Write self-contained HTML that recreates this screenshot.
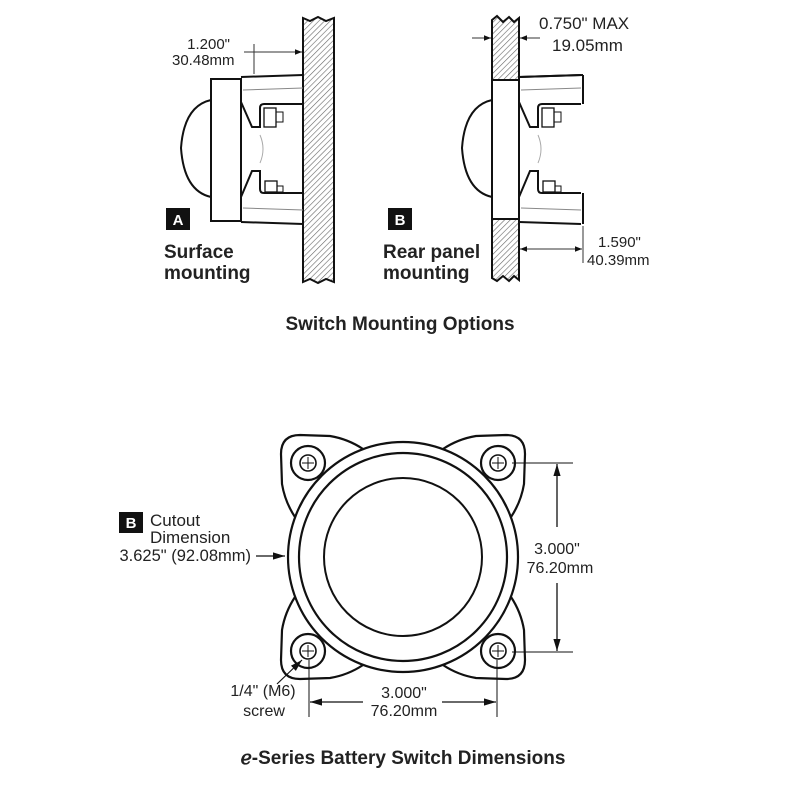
<!DOCTYPE html>
<html><head><meta charset="utf-8"><style>
html,body{margin:0;padding:0;background:#fff;}
svg{display:block;}
text{font-family:"Liberation Sans",Arial,sans-serif;fill:#222;}
</style></head><body>
<svg width="800" height="800" viewBox="0 0 800 800" xmlns="http://www.w3.org/2000/svg">
<defs>
<pattern id="h" width="4" height="4" patternUnits="userSpaceOnUse" patternTransform="rotate(45)">
<rect width="4" height="4" fill="#fff"/><line x1="0" y1="0" x2="0" y2="4" stroke="#666" stroke-width="1.2"/>
</pattern>
<marker id="ar" viewBox="0 0 10 10" refX="10" refY="5" markerWidth="7" markerHeight="7" orient="auto-start-reverse" markerUnits="userSpaceOnUse"><path d="M0,1 L10,5 L0,9 Z" fill="#111"/></marker>
<marker id="arB" viewBox="0 0 10 10" refX="10" refY="5" markerWidth="12" markerHeight="12" orient="auto-start-reverse" markerUnits="userSpaceOnUse"><path d="M0,2 L10,5 L0,8 Z" fill="#111"/></marker>
<g id="flange" fill="none" stroke="#111" stroke-width="2">
<path d="M241,77 L303,75"/>
<path d="M241,102 L252,127 L260,127 L260,108 Q260,104 264,104 L303,104"/>
<path d="M241,197 L252,171 L260,171 L260,189 Q260,193 264,193 L303,193"/>
<path d="M241,222 L303,224"/>
<line x1="243" y1="90" x2="303" y2="88" stroke="#888" stroke-width="1"/>
<line x1="243" y1="208" x2="303" y2="210" stroke="#888" stroke-width="1"/>
<rect x="264" y="108" width="12" height="19" stroke-width="1.3"/>
<rect x="276" y="112" width="7" height="10" stroke-width="1"/>
<rect x="265" y="181" width="12" height="11" stroke-width="1.3"/>
<rect x="277" y="186" width="6" height="6" stroke-width="1"/>
<path d="M260,135 Q266,149 260,163" stroke="#aaa" stroke-width="1"/>
</g>
</defs>

<!-- Panel A -->
<path d="M303,18 L310,21 L318,17 L326,21 L334,18 L334,282 L326,279 L318,283 L310,279 L303,282 Z" fill="url(#h)" stroke="#111" stroke-width="2"/>
<use href="#flange"/>
<rect x="211" y="79" width="30" height="142" fill="#fff" stroke="#111" stroke-width="2"/>
<path d="M211,100 Q184,106 181,148 Q184,191 211,197" fill="none" stroke="#111" stroke-width="2"/>
<line x1="254" y1="44" x2="254" y2="74" stroke="#333" stroke-width="1"/>
<line x1="244" y1="52" x2="302" y2="52" stroke="#333" stroke-width="1" marker-end="url(#ar)"/>
<text x="230" y="49" font-size="15" text-anchor="end">1.200"</text>
<text x="172" y="65" font-size="15">30.48mm</text>
<rect x="166" y="208" width="24" height="22" fill="#111"/>
<text x="178" y="225" font-size="15" font-weight="bold" text-anchor="middle" style="fill:#fff">A</text>
<text x="164" y="258" font-size="19" font-weight="bold">Surface</text>
<text x="164" y="279" font-size="19" font-weight="bold">mounting</text>

<!-- Panel B -->
<path d="M492,20 L497,16 L503,22 L509,17 L514,22 L519,18 L519,280 L514,276 L509,281 L503,276 L497,281 L492,278 Z" fill="url(#h)" stroke="#111" stroke-width="2"/>
<g transform="translate(278,0)"><use href="#flange"/></g>
<line x1="519" y1="77" x2="583" y2="75" stroke="#111" stroke-width="2"/>
<line x1="583" y1="75" x2="583" y2="104" stroke="#111" stroke-width="2"/>
<line x1="583" y1="193" x2="583" y2="224" stroke="#111" stroke-width="2"/>
<rect x="492" y="80" width="27" height="139" fill="#fff" stroke="#111" stroke-width="2"/>
<path d="M492,100 Q465,106 462,148 Q465,191 492,197" fill="none" stroke="#111" stroke-width="2"/>
<line x1="472" y1="38" x2="491" y2="38" stroke="#333" stroke-width="1" marker-end="url(#ar)"/>
<line x1="540" y1="38" x2="520" y2="38" stroke="#333" stroke-width="1" marker-end="url(#ar)"/>
<text x="539" y="29" font-size="17">0.750" MAX</text>
<text x="552" y="51" font-size="17">19.05mm</text>
<line x1="583" y1="226" x2="583" y2="263" stroke="#333" stroke-width="1"/>
<line x1="520" y1="249" x2="582" y2="249" stroke="#333" stroke-width="1" marker-start="url(#ar)" marker-end="url(#ar)"/>
<text x="598" y="247" font-size="15">1.590"</text>
<text x="587" y="265" font-size="15">40.39mm</text>
<rect x="388" y="208" width="24" height="22" fill="#111"/>
<text x="400" y="225" font-size="15" font-weight="bold" text-anchor="middle" style="fill:#fff">B</text>
<text x="383" y="258" font-size="19" font-weight="bold">Rear panel</text>
<text x="383" y="279" font-size="19" font-weight="bold">mounting</text>

<text x="400" y="330" font-size="19" font-weight="bold" text-anchor="middle">Switch Mounting Options</text>

<!-- Bottom switch -->
<g transform="translate(403,557)" fill="none" stroke="#111" stroke-width="2.2">
<g id="corner"><path d="M-40,-108 Q-55,-118 -73,-121 L-103,-122 Q-122,-122 -122,-103 L-121,-73 Q-118,-55 -108,-40"/></g>
<use href="#corner" transform="scale(-1,1)"/>
<use href="#corner" transform="scale(1,-1)"/>
<use href="#corner" transform="scale(-1,-1)"/>
<circle r="115" fill="#fff"/>
<circle r="104"/>
<circle r="79" stroke-width="2"/>
<g id="hole"><circle cx="-95" cy="-94" r="17" fill="#fff"/><circle cx="-95" cy="-94" r="8" stroke-width="1.6"/><path d="M-101,-94 H-89 M-95,-100 V-88" stroke-width="1"/></g>
<use href="#hole" transform="scale(-1,1)"/>
<use href="#hole" transform="scale(1,-1)"/>
<use href="#hole" transform="scale(-1,-1)"/>
</g>
<!-- vertical dim -->
<line x1="512" y1="463" x2="573" y2="463" stroke="#111" stroke-width="1"/>
<line x1="512" y1="652" x2="573" y2="652" stroke="#111" stroke-width="1"/>
<line x1="557" y1="527" x2="557" y2="464" stroke="#111" stroke-width="1.3" marker-end="url(#arB)"/>
<line x1="557" y1="583" x2="557" y2="651" stroke="#111" stroke-width="1.3" marker-end="url(#arB)"/>
<text x="557" y="554" font-size="16" text-anchor="middle">3.000"</text>
<text x="560" y="573" font-size="16" text-anchor="middle">76.20mm</text>
<!-- horizontal dim -->
<line x1="309" y1="660" x2="309" y2="717" stroke="#111" stroke-width="1"/>
<line x1="497" y1="660" x2="497" y2="717" stroke="#111" stroke-width="1"/>
<line x1="363" y1="702" x2="310" y2="702" stroke="#111" stroke-width="1.3" marker-end="url(#arB)"/>
<line x1="442" y1="702" x2="496" y2="702" stroke="#111" stroke-width="1.3" marker-end="url(#arB)"/>
<text x="404" y="698" font-size="16" text-anchor="middle">3.000"</text>
<text x="404" y="716" font-size="16" text-anchor="middle">76.20mm</text>
<!-- cutout label -->
<rect x="119" y="512" width="24" height="21" fill="#111"/>
<text x="131" y="528" font-size="15" font-weight="bold" text-anchor="middle" style="fill:#fff">B</text>
<text x="150" y="526" font-size="17">Cutout</text>
<text x="150" y="543" font-size="17">Dimension</text>
<text x="251" y="561" font-size="16.5" text-anchor="end">3.625" (92.08mm)</text>
<line x1="256" y1="556" x2="285" y2="556" stroke="#111" stroke-width="1.3" marker-end="url(#arB)"/>
<line x1="277" y1="684" x2="302" y2="660" stroke="#111" stroke-width="1.2" marker-end="url(#arB)"/>
<text x="263" y="696" font-size="16" text-anchor="middle">1/4" (M6)</text>
<text x="264" y="716" font-size="16" text-anchor="middle">screw</text>

<text x="403" y="764" font-size="19" font-weight="bold" text-anchor="middle">&#8495;-Series Battery Switch Dimensions</text>
</svg>
</body></html>
